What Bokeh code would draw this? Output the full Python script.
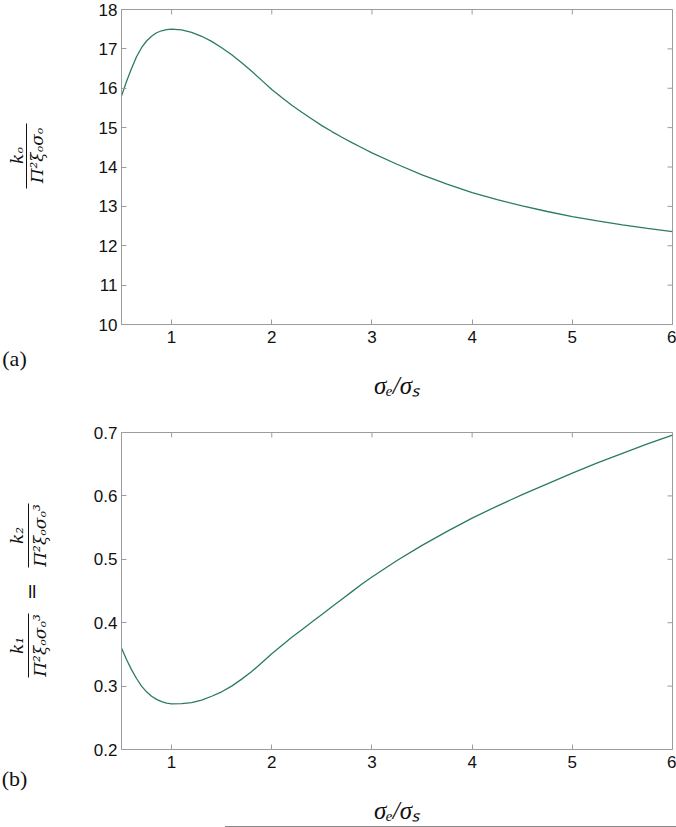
from math import pi
from bokeh.plotting import figure
from bokeh.models import Range1d, FixedTicker, Div
from bokeh.layouts import column, row
from bokeh.core.properties import value
from bokeh.embed import file_html
from bokeh.resources import INLINE

# ---- data ----
ratio = [0.5, 0.55, 0.6, 0.65, 0.7, 0.75, 0.8, 0.85, 0.9, 0.95, 1.0, 1.1, 1.2, 1.3, 1.4,
         1.5, 1.6, 1.7, 1.8, 1.9, 2.0, 2.1, 2.2, 2.3, 2.4, 2.5, 2.6, 2.7, 2.8, 2.9, 3.0,
         3.25, 3.5, 3.75, 4.0, 4.25, 4.5, 4.75, 5.0, 5.25, 5.5, 5.75, 6.0]
k0_norm = [15.80, 16.17, 16.50, 16.80, 17.03, 17.20, 17.32, 17.41, 17.46, 17.49, 17.50,
           17.48, 17.42, 17.32, 17.19, 17.03, 16.85, 16.65, 16.43, 16.20, 15.97, 15.765,
           15.57, 15.39, 15.22, 15.05, 14.90, 14.755, 14.62, 14.49, 14.36, 14.07, 13.80,
           13.565, 13.35, 13.17, 13.01, 12.87, 12.74, 12.63, 12.53, 12.44, 12.36]
k12_norm = [0.360, 0.342, 0.326, 0.312, 0.300, 0.291, 0.284, 0.279, 0.2755, 0.273, 0.272,
            0.2725, 0.274, 0.278, 0.284, 0.291, 0.300, 0.311, 0.323, 0.337, 0.351, 0.364,
            0.377, 0.389, 0.401, 0.413, 0.425, 0.437, 0.449, 0.461, 0.472, 0.498, 0.522,
            0.544, 0.565, 0.584, 0.602, 0.619, 0.636, 0.652, 0.667, 0.682, 0.696]
x_ticks = [1, 2, 3, 4, 5, 6]
y_ticks_a = [10, 11, 12, 13, 14, 15, 16, 17, 18]
y_ticks_b = [0.2, 0.3, 0.4, 0.5, 0.6, 0.7]
x_label = "σₑ/σₛ"
panel_tags = ["(a)", "(b)"]

LINE = "#2b7a67"
GREY = "#9c9c9c"
INK = "#111111"
TICK_FONT = "Liberation Sans"
MATH_FONT = "Liberation Serif"
FRAC_FONT = "DejaVu Serif"
LABEL_W = 62      # width of the left strip holding the y-axis titles
FRAME_LEFT = 121  # page x of plot frame left edge
X_LO, X_HI = 0.5, 6


def style_axis(ax, ticks):
    ax.ticker = FixedTicker(ticks=ticks)
    ax.axis_line_color = GREY
    ax.major_tick_line_color = GREY
    ax.major_tick_in = 5
    ax.major_tick_out = 0
    ax.minor_tick_in = 0
    ax.minor_tick_out = 0
    ax.minor_tick_line_color = None
    ax.major_label_text_font = TICK_FONT
    ax.major_label_text_color = INK
    ax.major_label_text_font_size = "17px"


def make_fig(height, top_border, bottom_border, y_lo, y_hi, y_ticks, y_vals):
    p = figure(width=676 - LABEL_W, height=height, x_range=Range1d(X_LO, X_HI),
               y_range=Range1d(y_lo, y_hi), output_backend="svg", toolbar_location=None,
               min_border_left=FRAME_LEFT - LABEL_W, min_border_right=4,
               min_border_top=top_border, min_border_bottom=bottom_border)
    p.grid.visible = False
    p.outline_line_color = GREY
    style_axis(p.xaxis[0], x_ticks)
    p.xaxis[0].major_label_standoff = 6
    style_axis(p.yaxis[0], y_ticks)
    p.yaxis[0].major_label_standoff = 4
    p.xaxis[0].axis_label = x_label
    p.xaxis[0].axis_label_text_font = MATH_FONT
    p.xaxis[0].axis_label_text_font_style = "italic"
    p.xaxis[0].axis_label_text_font_size = "25px"
    p.xaxis[0].axis_label_text_color = INK
    p.xaxis[0].axis_label_standoff = 26
    # inward ticks on the top and right edges of the box
    p.ray(x=x_ticks, y=[y_hi] * len(x_ticks), length=5, length_units="screen",
          angle=-pi / 2, line_color=GREY, line_width=1)
    p.ray(x=[X_HI] * len(y_ticks), y=y_ticks, length=5, length_units="screen",
          angle=pi, line_color=GREY, line_width=1)
    p.line(ratio, y_vals, line_color=LINE, line_width=1.3)
    return p


p1 = make_fig(420, 9, 96, 10, 18, y_ticks_a, k0_norm)
p2 = make_fig(406, 12, 76, 0.2, 0.7, y_ticks_b, k12_norm)

# ---- left strip with the (stacked-fraction) y-axis titles, page pixel coordinates ----
lf = figure(width=LABEL_W, height=826, x_range=Range1d(0, LABEL_W), y_range=Range1d(826, 0),
            output_backend="svg", toolbar_location=None, min_border=0,
            x_axis_location=None, y_axis_location=None)
lf.grid.visible = False
lf.outline_line_color = None


def rot_text(texts, xs, ys, size="17px", style="italic"):
    lf.text(x=xs, y=ys, text=texts, angle=pi / 2, text_align="center",
            text_baseline="middle", text_font=value(FRAC_FONT),
            text_font_style=style, text_font_size=size, text_color=INK)


# panel (a): k_o / (Pi^2 xi_o sigma_o)
rot_text(["kₒ", "Π²ξₒσₒ"], [16, 36], [155, 155])
# panel (b): k_1 / (Pi^2 xi_o sigma_o^3) = k_2 / (Pi^2 xi_o sigma_o^3)
rot_text(["k₁", "Π²ξₒσₒ³"], [16, 39], [645, 645])
rot_text(["k₂", "Π²ξₒσₒ³"], [16, 39], [535, 535])
rot_text(["="], [31], [591], size="21px", style="normal")
# fraction bars
lf.segment(x0=[26, 28, 28], y0=[123, 613, 503], x1=[26, 28, 28], y1=[188, 677, 567],
           line_color=INK, line_width=1)
# panel tags
lf.text(x=[14, 14], y=[358, 778], text=panel_tags, text_align="center",
        text_baseline="middle", text_font=value(MATH_FONT), text_font_size="22px",
        text_color=INK)

rule = Div(text="", width=451, height=1, margin=(0, 0, 0, 225),
           styles={"background-color": "#8a8a8a"})

layout = column(row(lf, column(p1, p2, spacing=0), spacing=0), rule, spacing=0)
open("out.html", "w").write(file_html(layout, INLINE))
